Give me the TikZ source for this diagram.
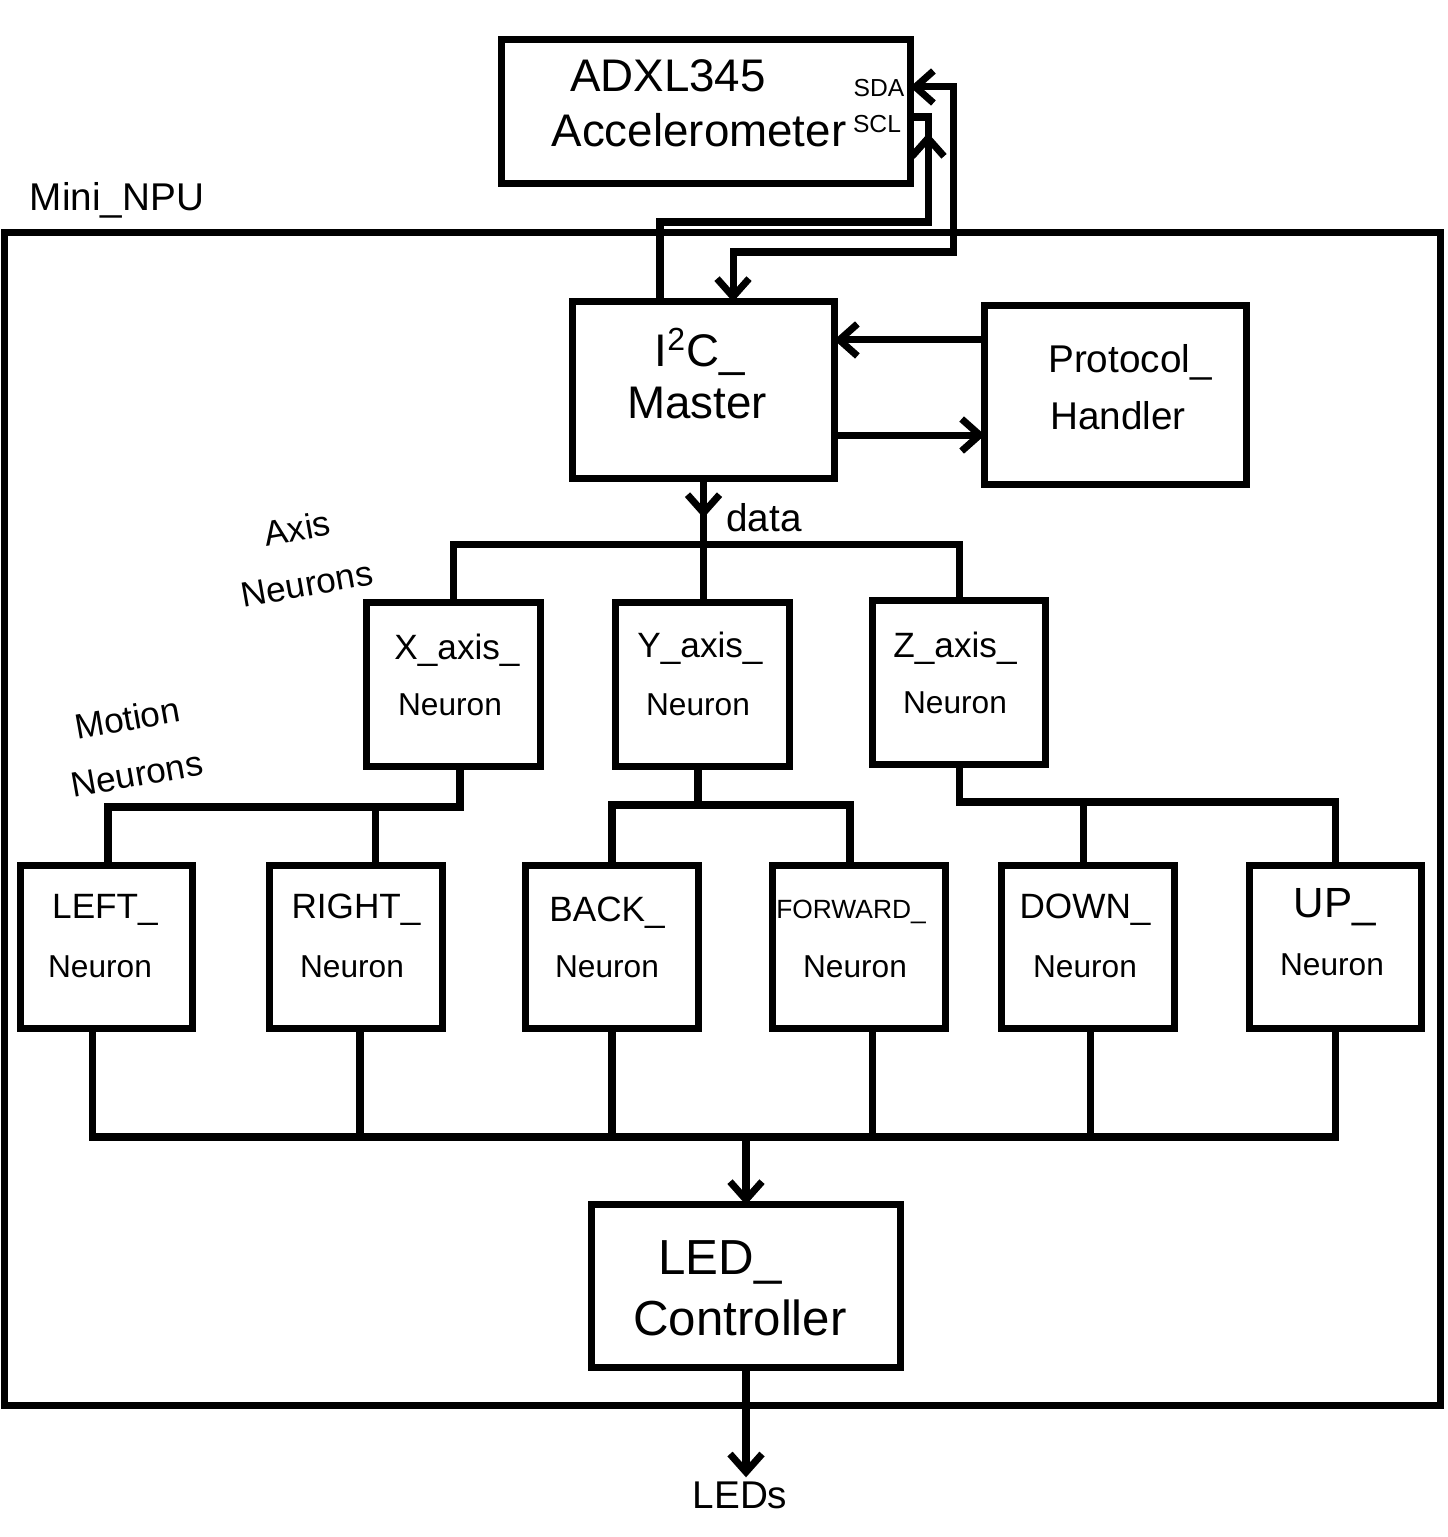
\documentclass[tikz,border=0pt]{standalone}
\usepackage{fontspec}
\setmainfont{Liberation Sans}
\usetikzlibrary{arrows.meta}
\begin{document}
\begin{tikzpicture}[x=0.01cm,y=-0.01cm,
  blk/.style={draw, line width=2pt, inner sep=0pt, outer sep=0pt},
  sig/.style={line width=2pt, line join=miter},
  tip/.style={-{Straight Barb[length=1.8mm,width=3.2mm]}},
  tips/.style={{Straight Barb[length=1.8mm,width=3.2mm]}-{Straight Barb[length=1.8mm,width=3.2mm]}},
  lab/.style={font=\fontsize{#1}{#1}\selectfont, inner sep=1pt, align=center},
  grp/.style={font=\fontsize{10pt}{16pt}\selectfont, inner sep=1pt, align=center, rotate=10},
]
\useasboundingbox (0,0) rectangle (1447,1537);

% enclosing design block
\node[blk, minimum width=14.35cm, minimum height=11.72cm] (npu) at (722.5,819) {};
\node[lab=11pt] (tnpu) at (117,200) {Mini\_NPU};

% sensor
\node[blk, minimum width=4.08cm, minimum height=1.43cm] (acc) at (706,111.5) {};
\node[lab=13pt] (tacc1) at (668,76) {ADXL345};
\node[lab=13pt] (tacc2) at (699,130) {Accelerometer};
\node[lab=7pt] (sda) at (879,88) {SDA};
\node[lab=7pt] (scl) at (877,124) {SCL};

% bus interface
\node[blk, minimum width=2.61cm, minimum height=1.76cm] (i2c) at (703.5,390) {};
\node[lab=13pt] (ti2c1) at (700,352) {I\textsuperscript{2}C\_};
\node[lab=13pt] (ti2c2) at (697,403) {Master};
\node[blk, minimum width=2.61cm, minimum height=1.78cm] (proto) at (1115.5,395) {};
\node[lab=11pt] (tproto1) at (1130,362) {Protocol\_};
\node[lab=11pt] (tproto2) at (1118,416) {Handler};

% axis neurons
\node[grp] (taxis) at (302,556) {Axis\\Neurons};
\node[blk, minimum width=1.73cm, minimum height=1.63cm] (xax) at (453.5,684.5) {};
\node[blk, minimum width=1.73cm, minimum height=1.63cm] (yax) at (702.5,684.5) {};
\node[blk, minimum width=1.72cm, minimum height=1.63cm] (zax) at (959,682.5) {};
\node[lab=10pt] (txa) at (457,650) {X\_axis\_};
\node[lab=9pt]  (txb) at (450,705) {Neuron};
\node[lab=10pt] (tya) at (700,648) {Y\_axis\_};
\node[lab=9pt]  (tyb) at (698,705) {Neuron};
\node[lab=10pt] (tza) at (955,648) {Z\_axis\_};
\node[lab=9pt]  (tzb) at (955,703) {Neuron};

% motion neurons
\node[grp] (tmot) at (132,746) {Motion\\Neurons};
\node[blk, minimum width=1.71cm, minimum height=1.62cm] (left)  at (106.5,947) {};
\node[blk, minimum width=1.72cm, minimum height=1.62cm] (right) at (356,947) {};
\node[blk, minimum width=1.72cm, minimum height=1.62cm] (back)  at (612,947) {};
\node[blk, minimum width=1.72cm, minimum height=1.62cm] (fwd)   at (859,947) {};
\node[blk, minimum width=1.72cm, minimum height=1.62cm] (down)  at (1088,947) {};
\node[blk, minimum width=1.71cm, minimum height=1.62cm] (up)    at (1335.5,947) {};
\node[lab=10pt]  (tla) at (105,910) {LEFT\_};
\node[lab=9pt]   (tlb) at (100,967) {Neuron};
\node[lab=10pt]  (tra) at (356,910) {RIGHT\_};
\node[lab=9pt]   (trb) at (352,967) {Neuron};
\node[lab=10pt]  (tba) at (607,913) {BACK\_};
\node[lab=9pt]   (tbb) at (607,967) {Neuron};
\node[lab=7.5pt] (tfa) at (851,912) {FORWARD\_};
\node[lab=9pt]   (tfb) at (855,967) {Neuron};
\node[lab=10pt]  (tda) at (1085,910) {DOWN\_};
\node[lab=9pt]   (tdb) at (1085,967) {Neuron};
\node[lab=12pt]  (tua) at (1335,907) {UP\_};
\node[lab=9pt]   (tub) at (1332,965) {Neuron};

% output stage
\node[blk, minimum width=3.08cm, minimum height=1.62cm] (led) at (746,1286) {};
\node[lab=14pt] (tled1) at (720,1262) {LED\_};
\node[lab=14pt] (tled2) at (740,1318) {Controller};
\node[lab=11pt] (leds) at (740,1495) {LEDs};

% I2C wires: SDA both ways, SCL driven towards the sensor
\coordinate (sdaR) at (953,252);
\draw[sig, tips] ([yshift=0.245cm]acc.east) -| (sdaR) -| ([xshift=0.295cm]i2c.north);
\coordinate (sclTip) at (928,133);
\draw[sig] ([xshift=-0.435cm]i2c.north) |- (928,222) |- ([yshift=-0.055cm]acc.east);
\draw[sig, tip] (928,170) -- (sclTip);

% control handshake
\coordinate (p1) at ([yshift=0.55cm]proto.west);
\draw[sig, tip] (p1) -- (p1 -| i2c.east);
\coordinate (p2) at ([yshift=-0.45cm]i2c.east);
\draw[sig, tip] (p2) -- (p2 -| proto.west);

% data fan-out to axis neurons
\coordinate (dtip) at (703.5,518);
\draw[sig] (i2c.south) -- (i2c.south |- yax.north);
\draw[sig, tip] (i2c.south) -- (dtip);
\node[lab=11pt, anchor=west] (tdata) at (722,518) {data};
\draw[sig] (xax.north) -- ++(0,-58) -| (zax.north);

% axis to motion neurons
\coordinate (xb) at (460,807);
\draw[sig] ([xshift=0.015cm]left.north) |- (xb) -- (xb |- xax.south);
\draw[sig] ([xshift=0.19cm]right.north) -- ([xshift=0.19cm]right.north |- xb);
\coordinate (yb) at (698,805);
\draw[sig] (back.north) |- (yb) -| ([xshift=-0.09cm]fwd.north);
\draw[sig] (yb) -- (yb |- yax.south);
\coordinate (zb) at (959,802);
\draw[sig] (zax.south) -- (zb) -| (up.north);
\draw[sig] ([xshift=-0.05cm]down.north) -- ([xshift=-0.05cm]down.north |- zb);

% motion neurons to LED controller
\coordinate (lb) at (746,1137);
\draw[sig] ([xshift=-0.14cm]left.south) |- (lb) -| (up.south);
\draw[sig] ([xshift=0.04cm]right.south) -- ([xshift=0.04cm]right.south |- lb);
\draw[sig] (back.south) -- (back.south |- lb);
\draw[sig] ([xshift=0.13cm]fwd.south) -- ([xshift=0.13cm]fwd.south |- lb);
\draw[sig] ([xshift=0.02cm]down.south) -- ([xshift=0.02cm]down.south |- lb);
\draw[sig, tip] (lb) -- (led.north);
\draw[sig, tip] (led.south) -- (led.south |- leds.north);
\end{tikzpicture}
\end{document}
